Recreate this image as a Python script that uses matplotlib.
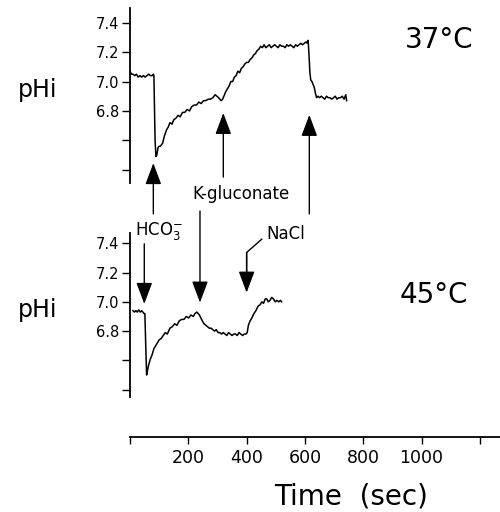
import matplotlib
matplotlib.use("Agg")
from matplotlib import pyplot as plt

# 37 C trace (time in sec, pHi)
t_37 = [0, 5, 10, 16, 22, 28, 34, 40, 46, 52, 58, 64, 70, 76, 80, 82, 84, 86, 89,
        92, 96, 100, 104, 108, 112, 118, 125, 131, 137, 144, 150, 157, 165, 172,
        180, 188, 196, 204, 212, 220, 228, 236, 244, 252, 260, 268, 276, 284, 292,
        298, 304, 308, 312, 316, 320, 324, 328, 334, 340, 346, 352, 358, 364, 370,
        376, 382, 388, 394, 400, 406, 412, 418, 424, 430, 436, 442, 448, 454, 460,
        466, 472, 478, 484, 490, 496, 502, 508, 514, 520, 526, 532, 538, 544, 550,
        556, 562, 568, 574, 580, 586, 592, 598, 604, 608, 611, 614, 617, 620, 624,
        628, 632, 636, 640, 645, 650, 656, 662, 668, 674, 680, 686, 692, 698, 704,
        710, 716, 722, 728, 734, 740, 743]
ph_37 = [7.07, 7.05, 7.05, 7.04, 7.05, 7.03, 7.04, 7.03, 7.04, 7.03, 7.04, 7.05, 7.04,
         7.04, 7.05, 7.04, 6.80, 6.60, 6.49, 6.50, 6.55, 6.56, 6.56, 6.57, 6.58,
         6.63, 6.67, 6.69, 6.72, 6.71, 6.74, 6.75, 6.77, 6.76, 6.79, 6.79, 6.81,
         6.80, 6.83, 6.84, 6.84, 6.86, 6.85, 6.87, 6.87, 6.88, 6.88, 6.89, 6.91,
         6.90, 6.89, 6.88, 6.87, 6.875, 6.89, 6.91, 6.93, 6.95, 6.97, 7.00, 7.00,
         7.03, 7.04, 7.07, 7.06, 7.09, 7.10, 7.12, 7.13, 7.13, 7.15, 7.16, 7.18,
         7.19, 7.21, 7.22, 7.24, 7.23, 7.25, 7.23, 7.24, 7.25, 7.23, 7.24, 7.25,
         7.24, 7.23, 7.25, 7.24, 7.24, 7.23, 7.25, 7.24, 7.25, 7.24, 7.23, 7.25,
         7.24, 7.25, 7.26, 7.25, 7.26, 7.27, 7.26, 7.28, 7.18, 7.06, 7.01, 7.00,
         6.98, 6.96, 6.92, 6.89, 6.90, 6.89, 6.90, 6.89, 6.88, 6.90, 6.89, 6.89,
         6.88, 6.89, 6.90, 6.88, 6.89, 6.89, 6.90, 6.88, 6.91, 6.87]

# 45 C trace
t_45 = [10, 15, 20, 25, 30, 35, 40, 44, 48, 51, 54, 57, 60, 64, 70, 76, 82, 88, 94,
        100, 107, 114, 121, 128, 137, 145, 153, 161, 169, 177, 185, 193, 201,
        209, 217, 223, 229, 234, 238, 243, 248, 254, 260, 266, 272, 278, 284, 290,
        296, 302, 308, 314, 320, 326, 332, 338, 344, 350, 356, 362, 368, 374, 380,
        386, 392, 398, 402, 406, 412, 418, 425, 432, 439, 446, 452, 458, 464, 469,
        474, 480, 486, 492, 498, 504, 510, 516, 520]
ph_45 = [6.94, 6.93, 6.94, 6.93, 6.945, 6.93, 6.94, 6.93, 6.92, 6.92, 6.70, 6.50,
         6.53, 6.57, 6.61, 6.64, 6.68, 6.70, 6.72, 6.74, 6.75, 6.77, 6.79, 6.78,
         6.82, 6.83, 6.85, 6.84, 6.87, 6.88, 6.88, 6.90, 6.89, 6.91, 6.90, 6.92,
         6.93, 6.92, 6.91, 6.89, 6.87, 6.85, 6.84, 6.83, 6.82, 6.82, 6.81, 6.80,
         6.81, 6.79, 6.79, 6.78, 6.79, 6.78, 6.77, 6.79, 6.78, 6.77, 6.78, 6.78,
         6.77, 6.79, 6.78, 6.77, 6.78, 6.78, 6.79, 6.84, 6.87, 6.89, 6.92, 6.94,
         6.97, 6.98, 7.00, 6.99, 7.02, 7.02, 7.00, 7.01, 7.03, 7.02, 7.00, 7.01,
         7.00, 7.01, 7.00]

yticks = [6.4, 6.6, 6.8, 7.0, 7.2, 7.4]
ytick_labels = ["", "", "6.8", "7.0", "7.2", "7.4"]
xticks = [0, 200, 400, 600, 800, 1000, 1200]
xtick_labels = ["", "200", "400", "600", "800", "1000", ""]


def panel(fig, rect, ylim):
    ax = fig.add_axes(rect)
    ax.set_xlim(0, 1269)
    ax.set_ylim(*ylim)
    for s in ["top", "right", "bottom"]:
        ax.spines[s].set_visible(False)
    ax.spines["left"].set_linewidth(1.3)
    ax.set_xticks([])
    ax.set_yticks(yticks)
    ax.set_yticklabels(ytick_labels, fontsize=10.5)
    ax.tick_params(axis="y", length=6, width=1, pad=1.5)
    ax.patch.set_visible(False)
    return ax


def arrow(ax, x, y_tail, y_tip):
    ax.annotate("", xy=(x, y_tip), xytext=(x, y_tail), annotation_clip=False,
                arrowprops=dict(arrowstyle="-|>,head_length=1.2,head_width=0.45",
                                lw=1, color="k", shrinkA=0, shrinkB=0,
                                mutation_scale=11))


fig = plt.figure(figsize=(5, 5.12), dpi=100)

ax1 = panel(fig, [0.26, 0.6426, 0.74, 0.3418], (6.31, 7.50))
ax1.plot(t_37, ph_37, color="k", lw=1.1)

ax2 = panel(fig, [0.26, 0.2246, 0.74, 0.3203], (6.35, 7.47))
ax2.plot(t_45, ph_45, color="k", lw=1.1)

ax3 = fig.add_axes([0.26, 0.1465, 0.74, 0.01])
ax3.set_xlim(0, 1269)
for s in ["top", "right", "left"]:
    ax3.spines[s].set_visible(False)
ax3.spines["bottom"].set_linewidth(1.3)
ax3.set_yticks([])
ax3.set_xticks(xticks)
ax3.set_xticklabels(xtick_labels, fontsize=12.5)
ax3.tick_params(axis="x", length=5, width=1, pad=4)
ax3.patch.set_visible(False)

# arrows into 37 C trace
arrow(ax1, 80, 6.10, 6.445)
arrow(ax1, 320, 6.35, 6.786)
arrow(ax1, 615, 6.10, 6.773)

# arrows into 45 C trace
arrow(ax2, 49, 7.396, 6.986)
arrow(ax2, 240, 7.62, 6.995)
ax2.plot([452, 400, 400], [7.428, 7.337, 7.20], color="k", lw=1, clip_on=False)
arrow(ax2, 400, 7.337, 7.063)

ax2.text(100, 7.485, "HCO$_3^{-}$", fontsize=12, ha="center", va="center")
ax2.text(380, 7.735, "K-gluconate", fontsize=12, ha="center", va="center")
ax2.text(533, 7.461, "NaCl", fontsize=12, ha="center", va="center")

fig.text(38 / 500, 1 - 90 / 512, "pHi", fontsize=17, ha="center", va="center")
fig.text(38 / 500, 1 - 310 / 512, "pHi", fontsize=17, ha="center", va="center")
fig.text(439 / 500, 1 - 40 / 512, "37\u00b0C", fontsize=20, ha="center", va="center")
fig.text(434 / 500, 1 - 295 / 512, "45\u00b0C", fontsize=20, ha="center", va="center")
fig.text(351 / 500, 1 - 497 / 512, "Time  (sec)", fontsize=20, ha="center", va="center")

fig.savefig("out.png", dpi=100)
